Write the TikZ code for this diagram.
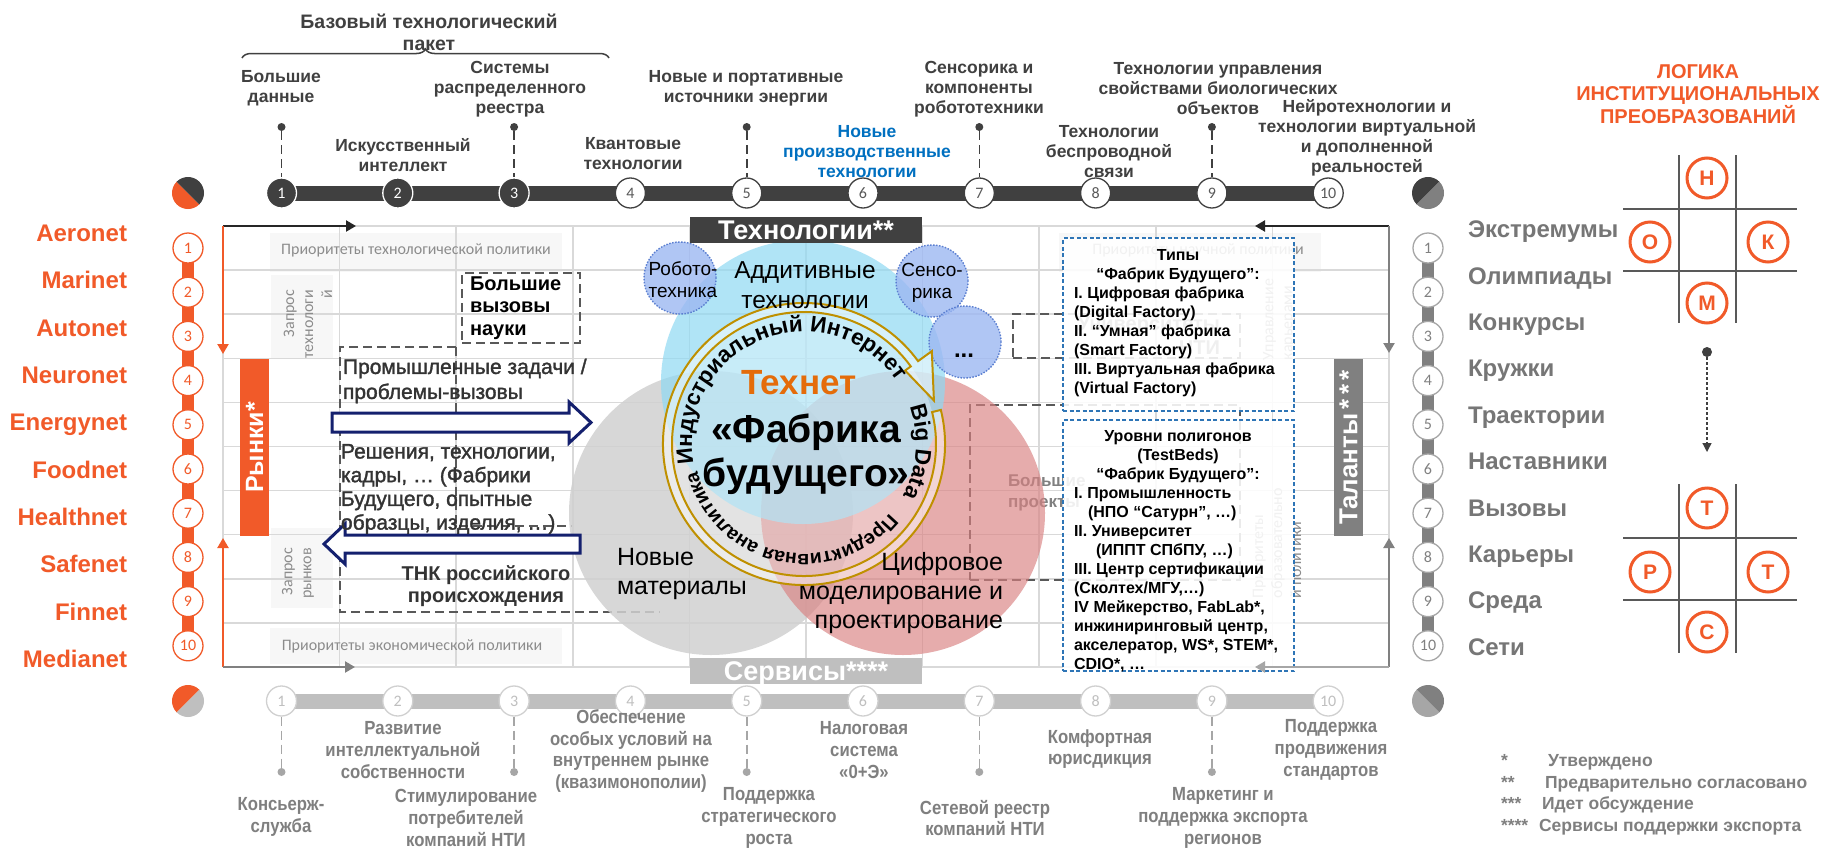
\documentclass[tikz,border=0pt]{standalone}
\usepackage{fontspec}
\setmainfont{Liberation Sans}
\newfontfamily\carlito{Carlito}
\newfontface\narrowbf[FakeStretch=0.88]{Liberation Sans Bold}
\newfontface\semibf[FakeBold=1.6]{Liberation Sans}
\usetikzlibrary{arrows.meta,decorations.text,decorations.pathreplacing}
\pgfdeclarelayer{back}
\pgfsetlayers{back,main}
\definecolor{cor}{HTML}{F15A29}
\definecolor{cdk}{HTML}{404040}
\definecolor{cdd}{HTML}{262626}
\definecolor{cmid}{HTML}{595959}
\definecolor{cgr}{HTML}{808080}
\definecolor{cbt}{HTML}{7F7F7F}
\definecolor{cA6}{HTML}{A6A6A6}
\definecolor{cD0}{HTML}{D0D0D0}
\definecolor{clg}{HTML}{BFBFBF}
\definecolor{cblue}{HTML}{0070C0}
\definecolor{cnavy}{HTML}{14206E}
\definecolor{cgold}{HTML}{BF9000}
\definecolor{ccyan}{HTML}{8FD9F3}
\definecolor{cgrey}{HTML}{D0D0D0}
\definecolor{cred}{HTML}{D98080}
\definecolor{cbub}{HTML}{9DB8F2}
\definecolor{cbubd}{HTML}{5B7FD0}
\definecolor{cgrid}{HTML}{D9D9D9}
\definecolor{clab}{HTML}{8C8C8C}
\definecolor{cnm}{HTML}{767676}
\definecolor{cbx}{HTML}{2E75B6}
\definecolor{ctech}{HTML}{E46C0A}
\definecolor{ctx}{HTML}{333333}
\newcommand\fsz[2]{\fontsize{#1}{#2}\selectfont}
\newcommand\ringfont{\bfseries\fsz{22.5}{24}}
\newcommand\ringfontb{\bfseries\fsz{19.5}{22}}
\newcommand\halfpie[5]{%
\begin{scope}[shift={(#1,#2)},y=1pt]
\fill[#4] (0,0) -- (#3:16) arc[start angle=#3,end angle=#3+180,radius=16] -- cycle;
\fill[#5] (0,0) -- ({#3+180}:16) arc[start angle=#3+180,end angle=#3+360,radius=16] -- cycle;
\end{scope}}
\begin{document}
\begin{tikzpicture}[x=1pt,y=-1pt,
 tx/.style={inner sep=0pt,outer sep=0pt,align=center},
 capc/.style={text height=#1,text depth=0pt},
 lab/.style={tx,text=clab,font=\carlito\fsz{16}{19}},
 labbox/.style={fill=black!3,inner sep=0pt},
 toptxt/.style={tx,text=cdk,font=\bfseries\fsz{17.5}{20}},
 bottxt/.style={tx,text=cbt,font=\narrowbf\fsz{19}{21.7}},
 dbox/.style={draw=cmid,dash pattern=on 9pt off 5pt,line width=1.8,inner sep=0pt},
 bluebox/.style={draw=cbx,dash pattern=on 4pt off 2.5pt,line width=1.8,fill=white,fill opacity=0.88,inner sep=0pt},
 bxt/.style={tx,text=black,font=\bfseries\fsz{16}{19}},
 bub/.style={circle,minimum size=72,inner sep=0pt,fill=cbub,fill opacity=0.8,draw=cbubd,dash pattern=on 1.5pt off 1.5pt,line width=1.4},
 tnum/.style={circle,minimum size=30,inner sep=0pt,font=\carlito\fsz{16}{16},line width=1.3},
 dotn/.style={circle,inner sep=0pt,minimum size=8},
 stemln/.style={line width=1.6,dash pattern=on 9pt off 5pt},
 nm/.style={tx,font=\bfseries\fsz{24}{24},capc=17.2pt},
 lgc/.style={circle,draw=cor,line width=3,fill=white,minimum size=40,inner sep=0pt,text=cor,font=\bfseries\fsz{21}{21},capc=15.1pt},
 fnt/.style={tx,anchor=west,text=cbt,font=\bfseries\fsz{17.5}{17.5},capc=12.6pt},
 frln/.style={line width=2.2},
 arrtip/.style={-{Triangle[length=10pt,width=11pt]}},
 vc/.style={circle,minimum size=284,inner sep=0pt}
]
\begin{pgfonlayer}{back}
\fill[white] (0,0) rectangle (1824,849);
\end{pgfonlayer}
\useasboundingbox (0,0) rectangle (1824,849);

% ---------- label boxes ----------
\node[labbox,minimum width=292,minimum height=39] (pTechBox) at (416,252.5) {};
\node[labbox,minimum width=292,minimum height=36] (pEconBox) at (416,646) {};
\node[labbox,minimum width=262,minimum height=39] (pSciBox) at (1190,252.5) {};
\node[labbox,minimum width=62,minimum height=83] (qTechBox) at (302,316.5) {};
\node[labbox,minimum width=62,minimum height=80] (qMktBox) at (302,568) {};

% ---------- grid ----------
\foreach \r in {0,...,10}{\draw[cgrid,line width=1.5] (223,{226+44.1*\r}) -- (1389,{226+44.1*\r});}
\foreach \j in {0,...,10}{\draw[cgrid,line width=1.5] ({223+116.6*\j},226) -- ({223+116.6*\j},667);}

% ---------- faded labels ----------
\node[lab] (pTech) at (416,250) {Приоритеты технологической политики};
\node[lab] (pEcon) at (412,646) {Приоритеты экономической политики};
\node[lab] (pSci) at (1198,250) {Приоритеты научной политики};
\node[lab,rotate=90,anchor=east,align=right] (qTech) at (308,290) {Запрос\\технологи\\й};
\node[lab,rotate=90,anchor=east,align=right] (qMkt) at (298,548) {Запрос\\рынков};
\node[lab,rotate=90,anchor=west,align=left] (uCar) at (1279,360) {Управление\\карьерами};
\node[lab,rotate=90,anchor=west,align=left] (pEdu) at (1277,598) {Приоритеты\\образовательно\\й политики};
\node[tx,anchor=east,align=right,text=cgr,font=\bfseries\fsz{20}{24}] (uni) at (1220,336) {Университеты\\НТИ};
\node[tx,anchor=west,align=left,text=cgr,font=\bfseries\fsz{17}{21}] (bigp) at (1008,493) {Большие\\проекты};

% ---------- dashed boxes ----------
\node[dbox,minimum width=227,minimum height=44] (uniBox) at (1126.5,336) {};
\node[dbox,minimum width=270,minimum height=175] (bigpBox) at (1105,492.5) {};
\node[dbox,minimum width=118,minimum height=70] (bvBox) at (521,308) {};
\draw[dbox] (456,347) -- (340,347) -- (340,612) -- (660,612);
\draw[dbox] (456,347) -- (456,526) -- (572,526);

% ---------- Venn ----------
\node[vc,fill=cgrey,fill opacity=0.85] (vGrey) at (711,513) {};
\node[vc,fill=cred,fill opacity=0.65] (vRed) at (903,513) {};
\node[vc,fill=ccyan,fill opacity=0.7] (vCyan) at (803,382) {};
\node[bub] (bRob) at (680,278) {};
\node[bub] (bSen) at (932,281) {};
\node[bub] (bDot) at (965,342) {};

\begin{scope}[shift={(804,444)},y=1pt]
 \fill[white,fill opacity=0.3] (0,0) circle[radius=132];
 \filldraw[draw=cgold,line width=2,fill=white,fill opacity=0.5,line join=miter]
  (14:132) -- (14:141) arc[start angle=14,end angle=-324,radius=141]
  -- (-324:158) -- (-341.5:137) -- (-324:125) -- (-324:132)
  arc[start angle=-324,end angle=14,radius=132] -- cycle;
 \path[decorate,decoration={text along path,text color=black,text align=center,
   text={|\ringfont|Индустриальный Интернет}}]
   (194:112) arc[start angle=194,end angle=30,radius=112];
 \path[decorate,decoration={text along path,text color=black,text align=center,
   text={|\ringfont|Big Data}}]
   (22:112) arc[start angle=22,end angle=-30,radius=112];
 \path[decorate,decoration={text along path,text color=black,text align=center,
   text={|\ringfontb|Предиктивная аналитика}}]
   (-33:110) arc[start angle=-33,end angle=-172,radius=110];
\end{scope}

\node[tx,font=\fsz{19}{22}] (tRob) at (683,280) {Робото-\\техника};
\node[tx,font=\fsz{19}{22}] (tSen) at (932,283) {Сенсо-\\рика};
\node[tx,anchor=base,font=\bfseries\fsz{24}{24}] (tDot) at (964,357) {...};
\node[tx,font=\fsz{24.5}{30}] (addit) at (805,285) {Аддитивные\\технологии};
\node[tx,text=ctech,font=\bfseries\fsz{35}{35},capc=25.2pt] (technet) at (799,382) {Технет};
\node[tx,font=\bfseries\fsz{39}{44}] (fab) at (806,454) {«Фабрика\\будущего»};
\node[tx,anchor=west,align=left,font=\fsz{25}{29}] (novmat) at (617,574) {Новые\\материалы};
\node[tx,anchor=east,align=right,font=\fsz{25}{28.6}] (cifr) at (1003,593) {Цифровое\\моделирование и\\проектирование};

% ---------- header boxes ----------
\node[tx,fill=cdk,text=white,font=\bfseries\fsz{27}{27},capc=19.4pt,minimum width=232,minimum height=26] (techbox) at (806,230) {Технологии**};
\node[tx,fill=clg,text=white,font=\bfseries\fsz{27}{27},capc=19.4pt,minimum width=232,minimum height=26] (servbox) at (806,670.5) {Сервисы****};

% ---------- navy arrows ----------
\draw[cnavy,line width=3,fill=white,line join=miter] (332,413) -- (569,413) -- (569,402) -- (591,422.5) -- (569,443) -- (569,432) -- (332,432) -- cycle;
\draw[cnavy,line width=3,fill=white,line join=miter] (324,544) -- (345,524) -- (345,535) -- (580,535) -- (580,553) -- (345,553) -- (345,564) -- cycle;

% ---------- left texts ----------
\node[tx,anchor=west,align=left,font=\bfseries\fsz{20}{22.5}] (bvn) at (470,308) {Большие\\вызовы\\науки};
\node[tx,anchor=west,align=left,text=ctx,font=\semibf\fsz{21}{25}] (prom) at (343,381) {Промышленные задачи /\\проблемы-вызовы};
\node[tx,anchor=west,align=left,text=ctx,font=\semibf\fsz{21}{23.7}] (resh) at (341,489) {Решения, технологии,\\кадры, … (Фабрики\\Будущего, опытные\\образцы, изделия, …)};
\node[tx,text=ctx,font=\bfseries\fsz{20}{22}] (tnk) at (486,586) {ТНК российского\\происхождения};

% ---------- blue boxes ----------
\node[bluebox,minimum width=231,minimum height=173] (bx1) at (1178.5,324.5) {};
\node[bxt] (bx1t) at (1178,266) {Типы\\“Фабрик Будущего”:};
\node[bxt,anchor=west,align=left] (bx1b) at (1074,342) {I. Цифровая фабрика\\(Digital Factory)\\II. “Умная” фабрика\\(Smart Factory)\\III. Виртуальная фабрика\\(Virtual Factory)};
\node[bluebox,minimum width=231,minimum height=251] (bx2) at (1178.5,545.5) {};
\node[bxt] (bx2t) at (1178,457) {Уровни полигонов\\(TestBeds)\\“Фабрик Будущего”:};
\node[bxt,anchor=west,align=left] (bx2b) at (1074,580) {I. Промышленность\\\hspace*{14pt}(НПО “Сатурн”, …)\\II. Университет\\\hspace*{22pt}(ИППТ СПбПУ, …)\\III. Центр сертификации\\(Сколтех/МГУ,…)\\IV Мейкерство, FabLab*,\\инжиниринговый центр,\\акселератор, WS*, STEM*,\\CDIO*, …};

% ---------- side bars ----------
\node[tx,fill=cor,text=white,font=\bfseries\fsz{25}{25},minimum width=177,minimum height=29,rotate=90] (rynki) at (254.5,447.5) {Рынки*};
\node[tx,fill=cgr,text=white,font=\bfseries\fsz{26}{26},minimum width=177,minimum height=29,rotate=90] (talanty) at (1348.5,447.5) {Таланты\,*\,*\,*};

% ---------- frame arrows ----------
\coordinate (fTL) at (223,226);
\coordinate (fTLh) at (356,226);
\coordinate (fLd) at (223,354);
\coordinate (fBL) at (223,667);
\coordinate (fLu) at (223,538);
\coordinate (fBLh) at (355,667);
\coordinate (fTR) at (1389,226);
\coordinate (fTRh) at (1255,226);
\coordinate (fRd) at (1389,353);
\coordinate (fBR) at (1389,667);
\coordinate (fRu) at (1389,538);
\coordinate (fBRh) at (1255,667);
\draw[frln,cdd,arrtip] (fTL) -- (fTLh);
\draw[frln,cor,arrtip] (fTL) -- (fLd);
\draw[frln,cor,arrtip] (fBL) -- (fLu);
\draw[frln,cgr,arrtip] (fBL) -- (fBLh);
\draw[frln,cdd,arrtip] (fTR) -- (fTRh);
\draw[frln,cgr,arrtip] (fTR) -- (fRd);
\draw[frln,cgr,arrtip] (fBR) -- (fRu);
\draw[frln,cA6,arrtip] (fBR) -- (fBRh);

% ---------- left column ----------
\foreach \k/\nmx in {1/Aeronet,2/Marinet,3/Autonet,4/Neuronet,5/Energynet,6/Foodnet,7/Healthnet,8/Safenet,9/Finnet,10/Medianet}{
 \node[nm,anchor=east,text=cor] (ln\k) at (127,{233+47.3*(\k-1)}) {\nmx};
 \node[tnum,fill=white,draw=cor,text=cor] (lc\k) at (188,{248+44.2*(\k-1)}) {\k};
}
\begin{pgfonlayer}{back}\draw[cor,line width=12] (lc1.center) -- (lc10.center);\end{pgfonlayer}

% ---------- right column ----------
\foreach \k/\nmx in {1/Экстремумы,2/Олимпиады,3/Конкурсы,4/Кружки,5/Траектории,6/Наставники,7/Вызовы,8/Карьеры,9/Среда,10/Сети}{
 \node[nm,anchor=west,text=cnm] (rn\k) at (1468,{229+46.4*(\k-1)}) {\nmx};
 \node[tnum,fill=white,draw=cA6,text=cgr] (rc\k) at (1428,{248+44.2*(\k-1)}) {\k};
}
\begin{pgfonlayer}{back}\draw[cgr,line width=12] (rc1.center) -- (rc10.center);\end{pgfonlayer}

% ---------- top timeline ----------
\node[tx,text=cdk,font=\bfseries\fsz{19.5}{22}] (ttl) at (429,32) {Базовый технологический\\пакет};
\coordinate (brL) at (242,58);
\coordinate (brR) at (609,58);
\draw[cdk,line width=1.5,decorate,decoration={brace,amplitude=9pt}] (brL) -- (brR);
\foreach \k in {1,2,3}{\node[tnum,fill=cdk,draw=white,text=white] (tc\k) at ({281.5+116.3*(\k-1)},193) {\k};}
\foreach \k in {4,...,10}{\node[tnum,fill=white,draw=cdk,text=cmid] (tc\k) at ({281.5+116.3*(\k-1)},193) {\k};}
\begin{pgfonlayer}{back}\draw[cdk,line width=15] (tc1.center) -- (tc10.center);\end{pgfonlayer}
\foreach \k in {1,3,5,7,9}{
 \node[dotn,fill=cdk] (td\k) at ({281.5+116.3*(\k-1)},127) {};
 \draw[stemln,cdk] (td\k) -- (tc\k);
}
\node[toptxt] (t1) at (281,88) {Большие\\данные};
\node[toptxt] (t2) at (403,155) {Искусственный\\интеллект};
\node[toptxt] (t3) at (510,89) {Системы\\распределенного\\реестра};
\node[toptxt] (t4) at (633,154) {Квантовые\\технологии};
\node[toptxt] (t5) at (746,88) {Новые и портативные\\источники энергии};
\node[toptxt,text=cblue] (t6) at (867,152) {Новые\\производственные\\технологии};
\node[toptxt] (t7) at (979,89) {Сенсорика и\\компоненты\\робототехники};
\node[toptxt] (t8) at (1109,152) {Технологии\\беспроводной\\связи};
\node[toptxt] (t9) at (1218,89) {Технологии управления\\свойствами биологических\\объектов};
\node[toptxt] (t10) at (1367,138) {Нейротехнологии и\\технологии виртуальной\\и дополненной\\реальностей};

% ---------- bottom timeline ----------
\foreach \k in {1,...,10}{\node[tnum,fill=white,draw=cD0,text=clg] (bc\k) at ({281.5+116.3*(\k-1)},701) {\k};}
\begin{pgfonlayer}{back}\draw[clg,line width=15] (bc1.center) -- (bc10.center);\end{pgfonlayer}
\foreach \k in {1,3,5,7,9}{
 \node[dotn,fill=cA6] (bd\k) at ({281.5+116.3*(\k-1)},772) {};
 \draw[stemln,cA6] (bc\k) -- (bd\k);
}
\node[bottxt] (b1) at (281,817) {Консьерж-\\служба};
\node[bottxt] (b2) at (403,750) {Развитие\\интеллектуальной\\собственности};
\node[bottxt] (b3) at (466,818) {Стимулирование\\потребителей\\компаний НТИ};
\node[bottxt] (b4) at (631,751) {Обеспечение\\особых условий на\\внутреннем рынке\\(квазимонополии)};
\node[bottxt] (b5) at (769,818) {Поддержка\\стратегического\\роста};
\node[bottxt] (b6) at (864,750) {Налоговая\\система\\«0+Э»};
\node[bottxt] (b7) at (985,818) {Сетевой реестр\\компаний НТИ};
\node[bottxt] (b8) at (1100,749) {Комфортная\\юрисдикция};
\node[bottxt] (b9) at (1223,818) {Маркетинг и\\поддержка экспорта\\регионов};
\node[bottxt] (b10) at (1331,750) {Поддержка\\продвижения\\стандартов};

% ---------- pies ----------
\halfpie{188}{193}{135}{cor}{cdk}
\halfpie{1428}{193}{45}{cdk}{cgr}
\halfpie{188}{701}{45}{cor}{clg}
\halfpie{1428}{701}{135}{cA6}{cgr}

% ---------- logic ----------
\node[tx,text=cor,font=\bfseries\fsz{20}{21.7}] (logt) at (1698,94) {ЛОГИКА\\ИНСТИТУЦИОНАЛЬНЫХ\\ПРЕОБРАЗОВАНИЙ};
\draw[cmid,line width=2] (1679,155) -- (1679,323) (1736,155) -- (1736,323) (1623,209) -- (1797,209) (1623,271) -- (1797,271);
\draw[cmid,line width=2] (1679,484) -- (1679,653) (1736,484) -- (1736,653) (1623,538) -- (1797,538) (1623,600) -- (1797,600);
\node[lgc] (lN) at (1707,178) {Н};
\node[lgc] (lO) at (1650,242) {О};
\node[lgc] (lK) at (1768,242) {К};
\node[lgc] (lM) at (1707,303) {М};
\node[lgc] (lT1) at (1707,508) {Т};
\node[lgc] (lR) at (1650,572) {Р};
\node[lgc] (lT2) at (1768,572) {Т};
\node[lgc] (lS) at (1707,632) {С};
\node[dotn,fill=cdk,minimum size=10] (ldot) at (1707,352) {};
\coordinate (larr) at (1707,452);
\draw[cdk,line width=1.3,dash pattern=on 3pt off 2pt,-{Triangle[length=9pt,width=9pt]}] (ldot) -- (larr);

% ---------- footnotes ----------
\node[fnt] (fs1) at (1501,760) {*};
\node[fnt] (ft1) at (1548,760) {Утверждено};
\node[fnt] (fs2) at (1501,782) {**};
\node[fnt] (ft2) at (1545,782) {Предварительно согласовано};
\node[fnt] (fs3) at (1501,803) {***};
\node[fnt] (ft3) at (1542,803) {Идет обсуждение};
\node[fnt] (fs4) at (1501,825) {****};
\node[fnt] (ft4) at (1539,825) {Сервисы поддержки экспорта};
\end{tikzpicture}
\end{document}
